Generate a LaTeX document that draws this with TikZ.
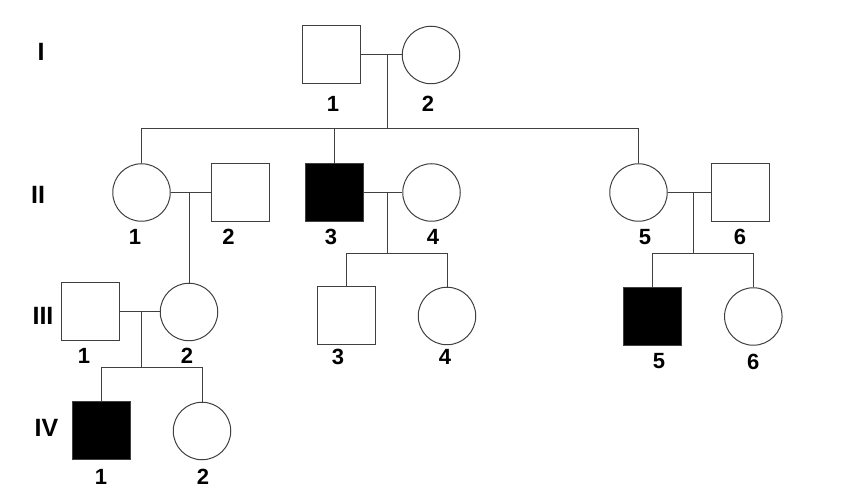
\documentclass[tikz,border=0pt]{standalone}
\usepackage{fontspec}
\setmainfont{Liberation Sans}
\begin{document}
\begin{tikzpicture}[x=1pt,y=-1pt,
  ln/.style={draw=black!75, line width=1pt},
  male/.style={rectangle, draw=black!75, line width=1pt, minimum size=58pt, inner sep=0pt},
  female/.style={circle, draw=black!75, line width=1pt, minimum size=57.5pt, inner sep=0pt},
  aff/.style={fill=black},
  num/.style={font=\fontsize{22}{22}\selectfont\bfseries, inner sep=0pt},
  gen/.style={font=\fontsize{25}{25}\selectfont\bfseries, inner sep=0pt}]
\fill[white] (0,0) rectangle (847,494);
\useasboundingbox (0,0) rectangle (847,494);

% generation labels
\node[gen] (gI) at (41,52) {I};
\node[gen] (gII) at (38,195) {II};
\node[gen] (gIII) at (43,316) {III};
\node[gen] (gIV) at (46.5,428) {IV};

% generation I
\node[male] (i1) at (331.5,55) {};
\node[female] (i2) at (431,55) {};
% generation II
\node[female] (ii1) at (141.5,192.5) {};
\node[male] (ii2) at (240,192.5) {};
\node[male,aff] (ii3) at (334.5,192.5) {};
\node[female] (ii4) at (431.5,192.5) {};
\node[female] (ii5) at (638.5,192.5) {};
\node[male] (ii6) at (740.5,192.5) {};
% generation III
\node[male] (iii1) at (90,312) {};
\node[female] (iii2) at (189,312) {};
\node[male] (iii3) at (346,316) {};
\node[female] (iii4) at (447,316) {};
\node[male,aff] (iii5) at (652.8,316.5) {};
\node[female] (iii6) at (753.3,316.5) {};
% generation IV
\node[male,aff] (iv1) at (101.5,431) {};
\node[female] (iv2) at (202,431) {};

% numbers
\node[num] (li1) at (333,103.5) {1};
\node[num] (li2) at (428,103.5) {2};
\node[num] (lii1) at (135,237) {1};
\node[num] (lii2) at (228.5,237) {2};
\node[num] (lii3) at (331,237) {3};
\node[num] (lii4) at (433,237) {4};
\node[num] (lii5) at (645,237) {5};
\node[num] (lii6) at (740,237) {6};
\node[num] (liii1) at (84,356) {1};
\node[num] (liii2) at (187,356) {2};
\node[num] (liii3) at (338,357) {3};
\node[num] (liii4) at (445,357) {4};
\node[num] (liii5) at (659,361.5) {5};
\node[num] (liii6) at (753.3,361.5) {6};
\node[num] (liv1) at (101,477) {1};
\node[num] (liv2) at (203,477) {2};

% generation I family
\draw[ln] (i1.east) -- (i2.west);
\coordinate (m1) at (387,55);
\coordinate (s1) at (387,128.3);
\draw[ln] (m1) -- (s1);
\draw[ln] (ii1.north) -- (ii1.north |- s1) -- (ii5.north |- s1) -- (ii5.north);
\draw[ln] (ii3.north) -- (ii3.north |- s1);

% II-1 x II-2
\draw[ln] (ii1.east) -- (ii2.west);
\coordinate (m2) at (189,192.5);
\draw[ln] (m2) -- (iii2.north);

% II-3 x II-4
\draw[ln] (ii3.east) -- (ii4.west);
\coordinate (m3) at (387,192.5);
\coordinate (s3) at (387,253.3);
\draw[ln] (m3) -- (s3);
\draw[ln] (iii3.north) |- (s3) -| (iii4.north);

% II-5 x II-6
\draw[ln] (ii5.east) -- (ii6.west);
\coordinate (m4) at (693.3,192.5);
\coordinate (s4) at (693.3,253.3);
\draw[ln] (m4) -- (s4);
\draw[ln] (iii5.north) |- (s4) -| (iii6.north);

% III-1 x III-2
\draw[ln] (iii1.east) -- (iii2.west);
\coordinate (m5) at (141.7,312);
\coordinate (s5) at (141.7,367.3);
\draw[ln] (m5) -- (s5);
\draw[ln] (iv1.north) |- (s5) -| (iv2.north);
\end{tikzpicture}
\end{document}
